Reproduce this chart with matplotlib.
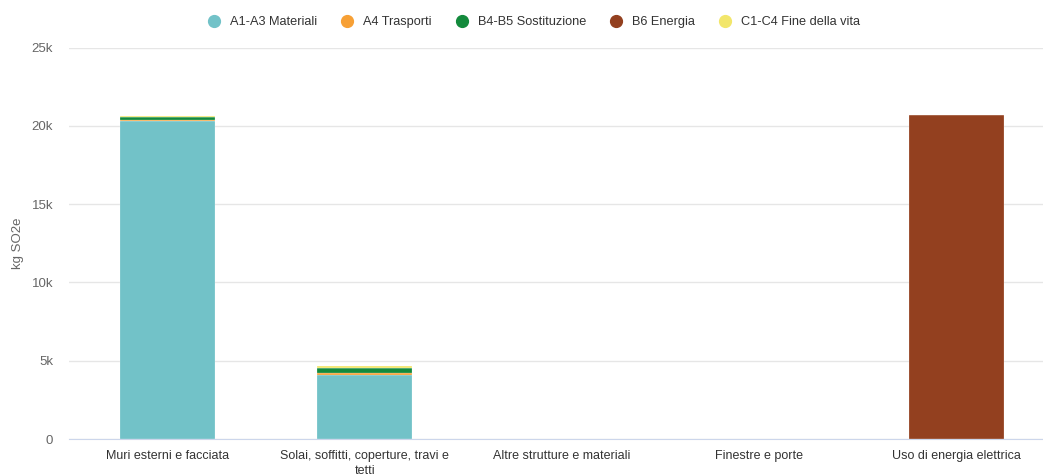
import matplotlib.pyplot as plt
import numpy as np
from matplotlib.lines import Line2D
from matplotlib.ticker import FuncFormatter

plt.rcParams['font.family'] = ['Liberation Sans', 'DejaVu Sans']

categories = [
    "Muri esterni e facciata",
    "Solai, soffitti, coperture, travi e\ntetti",
    "Altre strutture e materiali",
    "Finestre e porte",
    "Uso di energia elettrica",
]
series_names = ["A1-A3 Materiali", "A4 Trasporti", "B4-B5 Sostituzione",
                "B6 Energia", "C1-C4 Fine della vita"]
colors = ["#72c2c8", "#f7a035", "#138a3c", "#93401f", "#f2e66b"]

# kg SO2e per category, one list per life-cycle stage
a1_a3 = [20290, 4110, 0, 0, 0]
a4 = [110, 130, 0, 0, 0]
b4_b5 = [140, 290, 0, 0, 0]
b6 = [0, 0, 0, 0, 20690]
c1_c4 = [110, 110, 0, 0, 0]
series = [a1_a3, a4, b4_b5, b6, c1_c4]

W, H = 1043, 475
fig = plt.figure(figsize=(W / 100, H / 100), dpi=100)
ax = fig.add_axes([69 / W, 36 / H, (W - 69) / W, 391.5 / H])

x = np.arange(len(categories))
bottom = np.zeros(len(categories))
for vals, col in zip(series, colors):
    vals = np.array(vals, dtype=float)
    ax.bar(x, vals, width=0.48, bottom=bottom, color=col,
           edgecolor='white', linewidth=0.15, zorder=3)
    bottom += vals

ax.set_xlim(-0.5, 4.44)
ax.set_ylim(0, 25000)
ax.set_yticks(np.arange(0, 25001, 5000))
ax.yaxis.set_major_formatter(FuncFormatter(lambda v, p: "0" if v == 0 else f"{int(v / 1000)}k"))
ax.grid(axis='y', color='#e6e6e6', linewidth=1, zorder=0)
ax.set_xticks(x)
ax.set_xticklabels(categories, fontsize=9, color='#333333', linespacing=1.3)
ax.tick_params(axis='y', length=0, labelsize=9.5, labelcolor='#666666', pad=11.5)
ax.tick_params(axis='x', length=0, pad=8)
for s in ['top', 'right', 'left']:
    ax.spines[s].set_visible(False)
ax.spines['bottom'].set_color('#ccd6eb')
ax.spines['bottom'].set_zorder(4)
fig.text(17.5 / W, 1 - 243 / H, "kg SO2e", rotation=90, fontsize=9.5,
         color='#666666', ha='center', va='center')

handles = [Line2D([0], [0], marker='o', linestyle='', markersize=8.5,
                  markerfacecolor=c, markeredgecolor=c) for c in colors]
fig.legend(handles, series_names, loc='center', bbox_to_anchor=(0.509, 1 - 22 / H),
           ncol=5, frameon=False, fontsize=9.2, handletextpad=0.25,
           columnspacing=1.35, labelcolor='#333333')

fig.savefig("out.png", dpi=100)
